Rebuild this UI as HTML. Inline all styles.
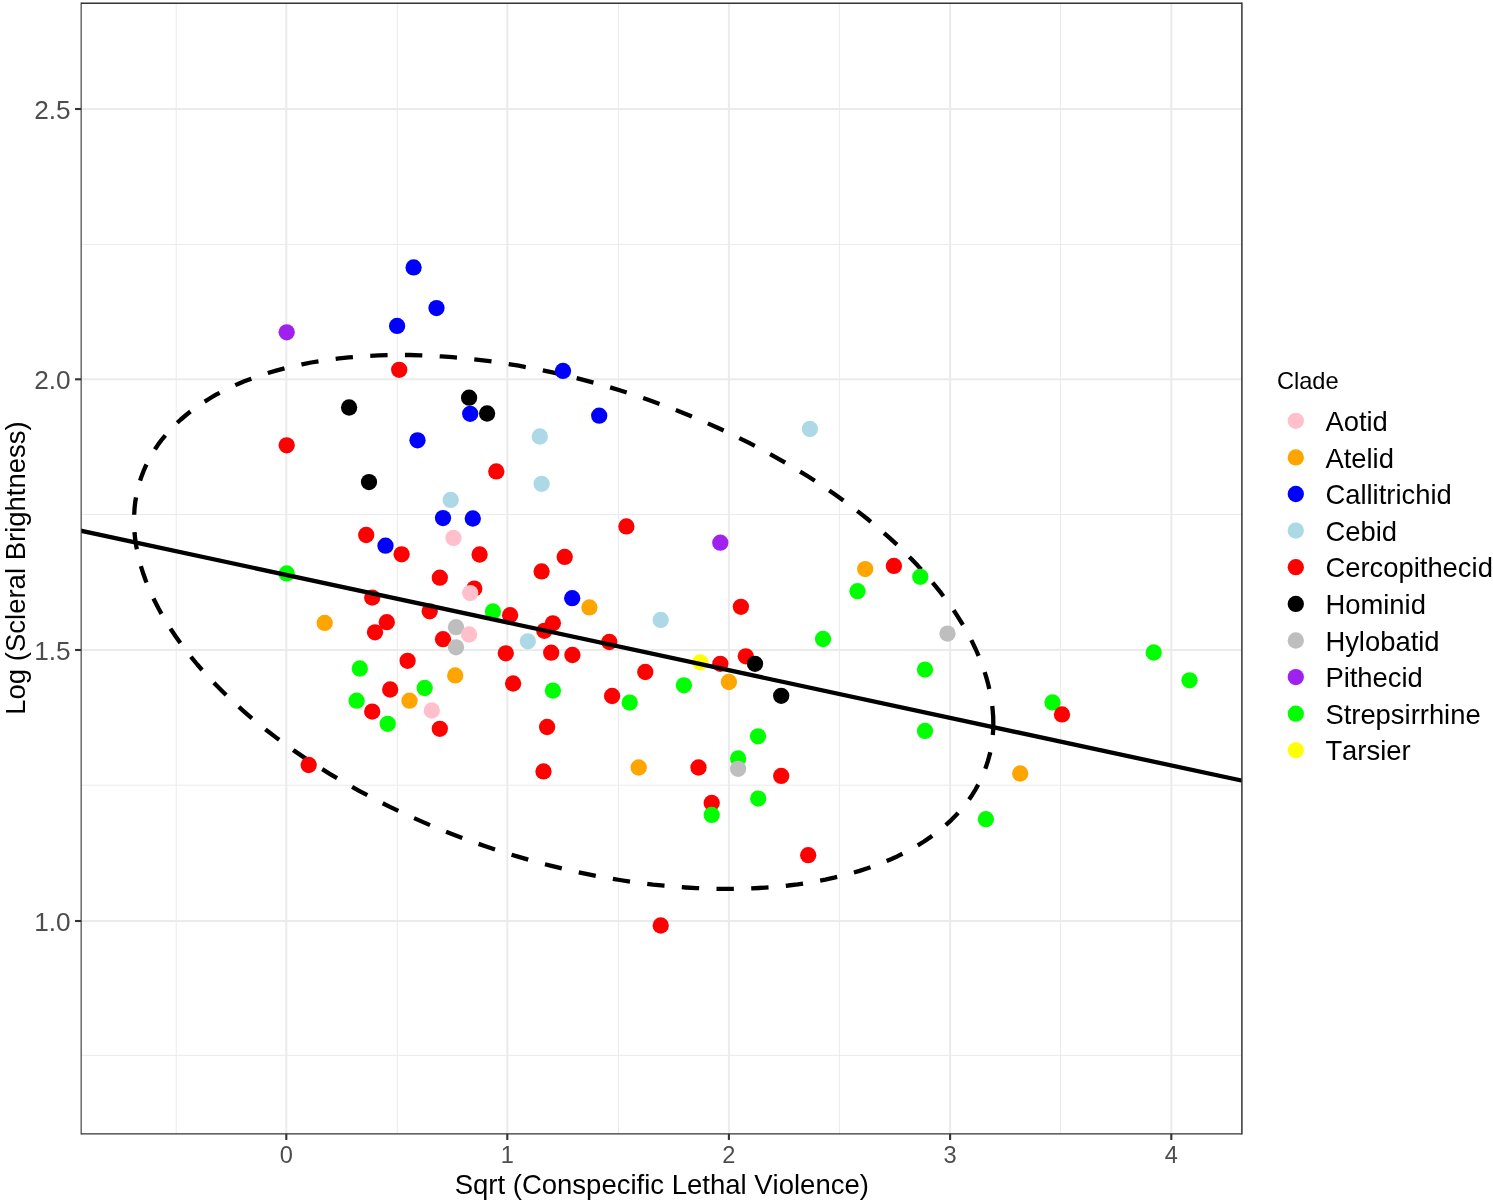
<!DOCTYPE html>
<html lang="en"><head><meta charset="utf-8"><title>Scleral Brightness vs Conspecific Lethal Violence</title>
<style>html,body{margin:0;padding:0;background:#fff}body{width:1493px;height:1204px;overflow:hidden}svg{display:block}text{font-family:"Liberation Sans",sans-serif;font-kerning:none}</style></head><body>
<svg width="1493" height="1204" viewBox="0 0 1493 1204">
<rect width="1493" height="1204" fill="#fff"/>
<clipPath id="pc"><rect x="81.15" y="3.25" width="1160.8" height="1130.6"/></clipPath>
<g stroke="#EBEBEB" fill="none"><line x1="176.2" x2="176.2" y1="3.25" y2="1133.85" stroke-width="1"/><line x1="397.3" x2="397.3" y1="3.25" y2="1133.85" stroke-width="1"/><line x1="618.5" x2="618.5" y1="3.25" y2="1133.85" stroke-width="1"/><line x1="839.4" x2="839.4" y1="3.25" y2="1133.85" stroke-width="1"/><line x1="1060.5" x2="1060.5" y1="3.25" y2="1133.85" stroke-width="1"/><line y1="1055.4" y2="1055.4" x1="81.15" x2="1241.9" stroke-width="1"/><line y1="785.2" y2="785.2" x1="81.15" x2="1241.9" stroke-width="1"/><line y1="514.5" y2="514.5" x1="81.15" x2="1241.9" stroke-width="1"/><line y1="244.5" y2="244.5" x1="81.15" x2="1241.9" stroke-width="1"/><line x1="286.3" x2="286.3" y1="3.25" y2="1133.85" stroke-width="2"/><line x1="507.3" x2="507.3" y1="3.25" y2="1133.85" stroke-width="2"/><line x1="728.9" x2="728.9" y1="3.25" y2="1133.85" stroke-width="2"/><line x1="950.1" x2="950.1" y1="3.25" y2="1133.85" stroke-width="2"/><line x1="1171.3" x2="1171.3" y1="3.25" y2="1133.85" stroke-width="2"/><line y1="921.0" y2="921.0" x1="81.15" x2="1241.9" stroke-width="2"/><line y1="650.0" y2="650.0" x1="81.15" x2="1241.9" stroke-width="2"/><line y1="379.3" y2="379.3" x1="81.15" x2="1241.9" stroke-width="2"/><line y1="109.0" y2="109.0" x1="81.15" x2="1241.9" stroke-width="2"/></g>
<g clip-path="url(#pc)">
<path d="M993.3,723.3 L993.2,716.8 L992.7,710.3 L992.0,703.7 L991.0,697.0 L989.6,690.2 L988.0,683.5 L986.1,676.6 L983.9,669.8 L981.4,662.9 L978.7,656.0 L975.6,649.0 L972.3,642.1 L968.7,635.1 L964.8,628.1 L960.6,621.1 L956.2,614.1 L951.5,607.1 L946.5,600.2 L941.2,593.2 L935.7,586.3 L930.0,579.4 L924.0,572.5 L917.7,565.6 L911.2,558.8 L904.5,552.0 L897.6,545.3 L890.4,538.7 L882.9,532.0 L875.3,525.5 L867.5,519.0 L859.4,512.6 L851.1,506.3 L842.7,500.0 L834.0,493.8 L825.2,487.7 L816.2,481.7 L807.0,475.8 L797.6,470.0 L788.1,464.4 L778.5,458.8 L768.7,453.3 L758.7,447.9 L748.6,442.7 L738.4,437.6 L728.1,432.6 L717.6,427.7 L707.1,423.0 L696.4,418.4 L685.7,413.9 L674.8,409.6 L663.9,405.5 L653.0,401.5 L641.9,397.6 L630.8,393.9 L619.7,390.3 L608.5,386.9 L597.3,383.7 L586.1,380.6 L574.9,377.7 L563.6,375.0 L552.4,372.4 L541.1,370.0 L529.9,367.8 L518.7,365.7 L507.6,363.9 L496.4,362.2 L485.3,360.6 L474.3,359.3 L463.3,358.1 L452.4,357.2 L441.6,356.4 L430.9,355.7 L420.2,355.3 L409.7,355.0 L399.2,355.0 L388.9,355.1 L378.7,355.4 L368.6,355.9 L358.6,356.5 L348.8,357.4 L339.1,358.4 L329.6,359.6 L320.3,361.0 L311.1,362.5 L302.1,364.3 L293.2,366.2 L284.6,368.3 L276.1,370.6 L267.9,373.0 L259.8,375.6 L252.0,378.4 L244.3,381.3 L236.9,384.4 L229.7,387.7 L222.8,391.2 L216.0,394.7 L209.6,398.5 L203.3,402.4 L197.3,406.4 L191.6,410.6 L186.1,415.0 L180.8,419.5 L175.8,424.1 L171.1,428.9 L166.7,433.8 L162.5,438.8 L158.6,443.9 L155.0,449.2 L151.7,454.6 L148.6,460.1 L145.9,465.7 L143.4,471.4 L141.2,477.2 L139.3,483.2 L137.7,489.2 L136.4,495.3 L135.3,501.5 L134.6,507.8 L134.2,514.1 L134.0,520.5 L134.2,527.0 L134.6,533.6 L135.3,540.2 L136.4,546.9 L137.7,553.6 L139.3,560.4 L141.2,567.2 L143.4,574.1 L145.9,581.0 L148.7,587.9 L151.7,594.9 L155.1,601.8 L158.7,608.8 L162.6,615.8 L166.7,622.8 L171.2,629.8 L175.9,636.7 L180.9,643.7 L186.1,650.7 L191.6,657.6 L197.3,664.5 L203.3,671.4 L209.6,678.3 L216.1,685.1 L222.8,691.8 L229.8,698.6 L237.0,705.2 L244.4,711.8 L252.0,718.4 L259.9,724.9 L267.9,731.3 L276.2,737.6 L284.7,743.9 L293.3,750.1 L302.1,756.1 L311.2,762.1 L320.3,768.0 L329.7,773.8 L339.2,779.5 L348.9,785.1 L358.7,790.6 L368.6,795.9 L378.7,801.2 L388.9,806.3 L399.3,811.3 L409.7,816.2 L420.3,820.9 L430.9,825.5 L441.7,829.9 L452.5,834.2 L463.4,838.4 L474.4,842.4 L485.4,846.3 L496.5,850.0 L507.6,853.6 L518.8,856.9 L530.0,860.2 L541.2,863.3 L552.5,866.2 L563.7,868.9 L575.0,871.5 L586.2,873.9 L597.4,876.1 L608.6,878.1 L619.8,880.0 L630.9,881.7 L642.0,883.2 L653.0,884.6 L664.0,885.7 L674.9,886.7 L685.7,887.5 L696.5,888.1 L707.1,888.6 L717.7,888.8 L728.1,888.9 L738.5,888.8 L748.7,888.5 L758.8,888.0 L768.7,887.4 L778.5,886.5 L788.2,885.5 L797.7,884.3 L807.1,882.9 L816.2,881.3 L825.3,879.6 L834.1,877.7 L842.7,875.6 L851.2,873.3 L859.5,870.9 L867.5,868.3 L875.4,865.5 L883.0,862.5 L890.4,859.4 L897.6,856.2 L904.6,852.7 L911.3,849.1 L917.8,845.4 L924.0,841.5 L930.0,837.4 L935.8,833.2 L941.3,828.9 L946.5,824.4 L951.5,819.8 L956.2,815.0 L960.6,810.1 L964.8,805.1 L968.7,800.0 L972.3,794.7 L975.6,789.3 L978.7,783.8 L981.5,778.2 L983.9,772.5 L986.1,766.6 L988.0,760.7 L989.7,754.7 L991.0,748.6 L992.0,742.4 L992.7,736.1 L993.2,729.8 L993.3,723.3" fill="none" stroke="#000" stroke-width="4.3" stroke-dasharray="17.365 17.365" stroke-linejoin="round"/>
<g><circle cx="413.6" cy="267.4" r="8.15" fill="#0000FF"/><circle cx="436.5" cy="308.1" r="8.15" fill="#0000FF"/><circle cx="397.1" cy="325.9" r="8.15" fill="#0000FF"/><circle cx="286.7" cy="332.3" r="8.15" fill="#A020F0"/><circle cx="399.2" cy="369.8" r="8.15" fill="#FF0000"/><circle cx="563.0" cy="370.9" r="8.15" fill="#0000FF"/><circle cx="470.2" cy="413.8" r="8.15" fill="#0000FF"/><circle cx="469.1" cy="397.7" r="8.15" fill="#000000"/><circle cx="349.1" cy="407.5" r="8.15" fill="#000000"/><circle cx="487.1" cy="413.5" r="8.15" fill="#000000"/><circle cx="286.7" cy="445.3" r="8.15" fill="#FF0000"/><circle cx="417.5" cy="440.3" r="8.15" fill="#0000FF"/><circle cx="539.8" cy="436.5" r="8.15" fill="#ADD8E6"/><circle cx="496.3" cy="471.4" r="8.15" fill="#FF0000"/><circle cx="369.0" cy="482.1" r="8.15" fill="#000000"/><circle cx="541.6" cy="483.8" r="8.15" fill="#ADD8E6"/><circle cx="450.7" cy="499.9" r="8.15" fill="#ADD8E6"/><circle cx="599.2" cy="415.7" r="8.15" fill="#0000FF"/><circle cx="809.9" cy="429.0" r="8.15" fill="#ADD8E6"/><circle cx="443.0" cy="518.1" r="8.15" fill="#0000FF"/><circle cx="472.8" cy="518.5" r="8.15" fill="#0000FF"/><circle cx="366.2" cy="535.0" r="8.15" fill="#FF0000"/><circle cx="453.5" cy="538.0" r="8.15" fill="#FFC0CB"/><circle cx="385.5" cy="545.7" r="8.15" fill="#0000FF"/><circle cx="401.6" cy="554.3" r="8.15" fill="#FF0000"/><circle cx="479.6" cy="554.5" r="8.15" fill="#FF0000"/><circle cx="564.7" cy="556.9" r="8.15" fill="#FF0000"/><circle cx="541.6" cy="571.4" r="8.15" fill="#FF0000"/><circle cx="286.7" cy="573.4" r="8.15" fill="#00FF00"/><circle cx="439.8" cy="577.7" r="8.15" fill="#FF0000"/><circle cx="474.3" cy="588.6" r="8.15" fill="#FF0000"/><circle cx="470.2" cy="593.1" r="8.15" fill="#FFC0CB"/><circle cx="572.2" cy="598.2" r="8.15" fill="#0000FF"/><circle cx="589.4" cy="607.4" r="8.15" fill="#FFA500"/><circle cx="372.2" cy="597.6" r="8.15" fill="#FF0000"/><circle cx="492.9" cy="611.5" r="8.15" fill="#00FF00"/><circle cx="429.7" cy="611.3" r="8.15" fill="#FF0000"/><circle cx="510.1" cy="615.2" r="8.15" fill="#FF0000"/><circle cx="324.7" cy="622.9" r="8.15" fill="#FFA500"/><circle cx="386.8" cy="622.2" r="8.15" fill="#FF0000"/><circle cx="375.0" cy="632.3" r="8.15" fill="#FF0000"/><circle cx="443.0" cy="639.2" r="8.15" fill="#FF0000"/><circle cx="456.0" cy="627.2" r="8.15" fill="#BEBEBE"/><circle cx="469.1" cy="634.5" r="8.15" fill="#FFC0CB"/><circle cx="456.0" cy="647.3" r="8.15" fill="#BEBEBE"/><circle cx="552.9" cy="623.3" r="8.15" fill="#FF0000"/><circle cx="544.3" cy="630.8" r="8.15" fill="#FF0000"/><circle cx="527.8" cy="641.3" r="8.15" fill="#ADD8E6"/><circle cx="505.8" cy="653.3" r="8.15" fill="#FF0000"/><circle cx="551.2" cy="652.7" r="8.15" fill="#FF0000"/><circle cx="572.4" cy="655.0" r="8.15" fill="#FF0000"/><circle cx="407.6" cy="660.8" r="8.15" fill="#FF0000"/><circle cx="359.8" cy="668.5" r="8.15" fill="#00FF00"/><circle cx="455.2" cy="675.4" r="8.15" fill="#FFA500"/><circle cx="513.1" cy="683.5" r="8.15" fill="#FF0000"/><circle cx="424.7" cy="688.0" r="8.15" fill="#00FF00"/><circle cx="390.2" cy="689.5" r="8.15" fill="#FF0000"/><circle cx="552.9" cy="690.6" r="8.15" fill="#00FF00"/><circle cx="356.6" cy="700.7" r="8.15" fill="#00FF00"/><circle cx="409.5" cy="700.7" r="8.15" fill="#FFA500"/><circle cx="431.8" cy="710.5" r="8.15" fill="#FFC0CB"/><circle cx="372.2" cy="711.6" r="8.15" fill="#FF0000"/><circle cx="387.7" cy="723.8" r="8.15" fill="#00FF00"/><circle cx="439.8" cy="728.8" r="8.15" fill="#FF0000"/><circle cx="547.1" cy="727.0" r="8.15" fill="#FF0000"/><circle cx="308.7" cy="765.0" r="8.15" fill="#FF0000"/><circle cx="626.4" cy="526.4" r="8.15" fill="#FF0000"/><circle cx="720.3" cy="542.7" r="8.15" fill="#A020F0"/><circle cx="893.9" cy="565.9" r="8.15" fill="#FF0000"/><circle cx="865.2" cy="569.1" r="8.15" fill="#FFA500"/><circle cx="857.5" cy="591.2" r="8.15" fill="#00FF00"/><circle cx="740.9" cy="606.8" r="8.15" fill="#FF0000"/><circle cx="660.7" cy="619.9" r="8.15" fill="#ADD8E6"/><circle cx="823.0" cy="639.0" r="8.15" fill="#00FF00"/><circle cx="609.3" cy="642.0" r="8.15" fill="#FF0000"/><circle cx="745.8" cy="656.3" r="8.15" fill="#FF0000"/><circle cx="755.0" cy="663.8" r="8.15" fill="#000000"/><circle cx="700.2" cy="662.3" r="8.15" fill="#FFFF00"/><circle cx="720.3" cy="663.8" r="8.15" fill="#FF0000"/><circle cx="645.3" cy="672.0" r="8.15" fill="#FF0000"/><circle cx="683.9" cy="685.3" r="8.15" fill="#00FF00"/><circle cx="728.9" cy="682.0" r="8.15" fill="#FFA500"/><circle cx="612.1" cy="696.0" r="8.15" fill="#FF0000"/><circle cx="629.7" cy="702.6" r="8.15" fill="#00FF00"/><circle cx="781.2" cy="695.8" r="8.15" fill="#000000"/><circle cx="758.0" cy="736.3" r="8.15" fill="#00FF00"/><circle cx="738.1" cy="758.4" r="8.15" fill="#00FF00"/><circle cx="738.1" cy="768.8" r="8.15" fill="#BEBEBE"/><circle cx="920.3" cy="576.8" r="8.15" fill="#00FF00"/><circle cx="947.5" cy="633.6" r="8.15" fill="#BEBEBE"/><circle cx="925.0" cy="669.6" r="8.15" fill="#00FF00"/><circle cx="1153.7" cy="652.5" r="8.15" fill="#00FF00"/><circle cx="1189.5" cy="680.3" r="8.15" fill="#00FF00"/><circle cx="1052.5" cy="702.4" r="8.15" fill="#00FF00"/><circle cx="1062.0" cy="714.4" r="8.15" fill="#FF0000"/><circle cx="925.0" cy="730.9" r="8.15" fill="#00FF00"/><circle cx="543.5" cy="771.4" r="8.15" fill="#FF0000"/><circle cx="638.7" cy="767.5" r="8.15" fill="#FFA500"/><circle cx="698.5" cy="767.5" r="8.15" fill="#FF0000"/><circle cx="781.2" cy="775.9" r="8.15" fill="#FF0000"/><circle cx="758.2" cy="798.6" r="8.15" fill="#00FF00"/><circle cx="711.7" cy="802.9" r="8.15" fill="#FF0000"/><circle cx="711.7" cy="814.9" r="8.15" fill="#00FF00"/><circle cx="808.2" cy="855.2" r="8.15" fill="#FF0000"/><circle cx="660.7" cy="925.5" r="8.15" fill="#FF0000"/><circle cx="1020.2" cy="773.5" r="8.15" fill="#FFA500"/><circle cx="985.9" cy="819.2" r="8.15" fill="#00FF00"/></g>
<line x1="76.15" y1="529.66" x2="1246.9" y2="781.73" stroke="#000" stroke-width="4.3"/>
</g>
<g stroke="#333" fill="none"><line x1="81.15" x2="81.15" y1="2.55" y2="1134.55" stroke-width="1.1"/><line x1="1241.9" x2="1241.9" y1="2.55" y2="1134.55" stroke-width="1.5"/><line x1="81.15" x2="1241.9" y1="3.25" y2="3.25" stroke-width="1.4"/><line x1="81.15" x2="1241.9" y1="1133.85" y2="1133.85" stroke-width="1.4"/></g>
<g stroke="#333" stroke-width="2.1"><line x1="286.3" x2="286.3" y1="1133.85" y2="1139.95"/><line x1="507.3" x2="507.3" y1="1133.85" y2="1139.95"/><line x1="728.9" x2="728.9" y1="1133.85" y2="1139.95"/><line x1="950.1" x2="950.1" y1="1133.85" y2="1139.95"/><line x1="1171.3" x2="1171.3" y1="1133.85" y2="1139.95"/><line y1="921.0" y2="921.0" x1="75.05" x2="81.15"/><line y1="650.0" y2="650.0" x1="75.05" x2="81.15"/><line y1="379.3" y2="379.3" x1="75.05" x2="81.15"/><line y1="109.0" y2="109.0" x1="75.05" x2="81.15"/></g>
<g fill="#4D4D4D" font-size="23.6" text-anchor="middle"><text x="286.3" y="1163">0</text><text x="507.3" y="1163">1</text><text x="728.9" y="1163">2</text><text x="950.1" y="1163">3</text><text x="1171.3" y="1163">4</text></g>
<g fill="#4D4D4D" font-size="26.2" text-anchor="end"><text x="70.6" y="930.6">1.0</text><text x="70.6" y="659.6">1.5</text><text x="70.6" y="388.9">2.0</text><text x="70.6" y="118.6">2.5</text></g>
<text x="661.8" y="1194.4" font-size="27.5" text-anchor="middle" fill="#000">Sqrt (Conspecific Lethal Violence)</text>
<text transform="translate(24.6,568) rotate(-90)" font-size="27.5" text-anchor="middle" fill="#000">Log (Scleral Brightness)</text>
<text x="1276.9" y="388.6" font-size="23.6" fill="#000">Clade</text>
<circle cx="1295.8" cy="420.8" r="8.15" fill="#FFC0CB"/><text x="1325.4" y="430.9" font-size="27.4" fill="#000">Aotid</text>
<circle cx="1295.8" cy="457.4" r="8.15" fill="#FFA500"/><text x="1325.4" y="467.5" font-size="27.4" fill="#000">Atelid</text>
<circle cx="1295.8" cy="494.0" r="8.15" fill="#0000FF"/><text x="1325.4" y="504.1" font-size="27.4" fill="#000">Callitrichid</text>
<circle cx="1295.8" cy="530.6" r="8.15" fill="#ADD8E6"/><text x="1325.4" y="540.7" font-size="27.4" fill="#000">Cebid</text>
<circle cx="1295.8" cy="567.2" r="8.15" fill="#FF0000"/><text x="1325.4" y="577.3" font-size="27.4" fill="#000">Cercopithecid</text>
<circle cx="1295.8" cy="603.9" r="8.15" fill="#000000"/><text x="1325.4" y="614.0" font-size="27.4" fill="#000">Hominid</text>
<circle cx="1295.8" cy="640.5" r="8.15" fill="#BEBEBE"/><text x="1325.4" y="650.6" font-size="27.4" fill="#000">Hylobatid</text>
<circle cx="1295.8" cy="677.1" r="8.15" fill="#A020F0"/><text x="1325.4" y="687.2" font-size="27.4" fill="#000">Pithecid</text>
<circle cx="1295.8" cy="713.7" r="8.15" fill="#00FF00"/><text x="1325.4" y="723.8" font-size="27.4" fill="#000">Strepsirrhine</text>
<circle cx="1295.8" cy="750.3" r="8.15" fill="#FFFF00"/><text x="1325.4" y="760.4" font-size="27.4" fill="#000">Tarsier</text>
</svg></body></html>
